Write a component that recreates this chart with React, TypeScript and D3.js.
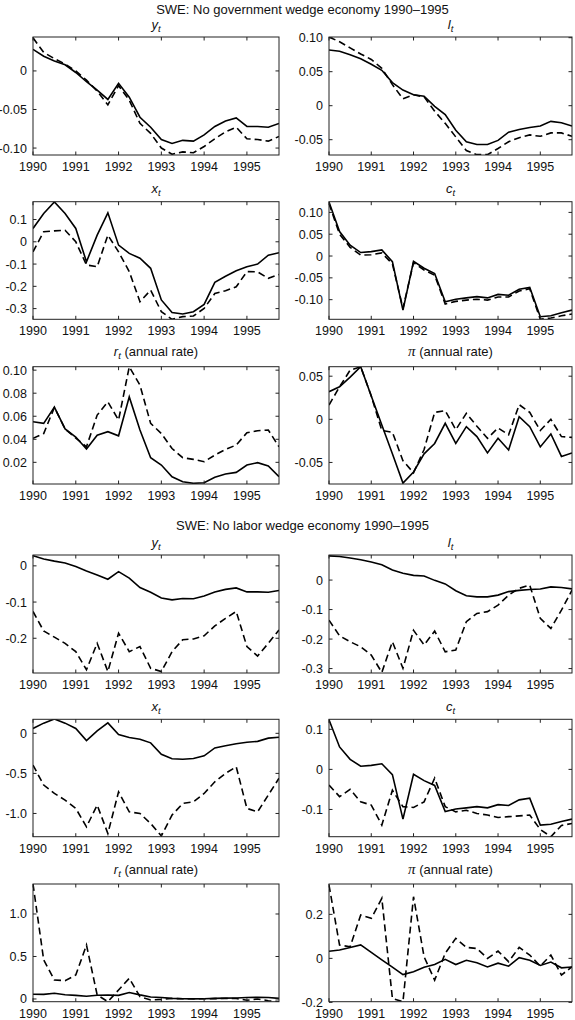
import React from 'react'
import * as d3 from 'd3'

// quarterly observations 1990Q1 - 1995Q4
const quarters = [
  1990, 1990.25, 1990.5, 1990.75, 1991, 1991.25, 1991.5, 1991.75,
  1992, 1992.25, 1992.5, 1992.75, 1993, 1993.25, 1993.5, 1993.75,
  1994, 1994.25, 1994.5, 1994.75, 1995, 1995.25, 1995.5, 1995.75,
]
const yearTicks = [1990, 1991, 1992, 1993, 1994, 1995]

// data (solid)
const yData = [0.028, 0.019, 0.013, 0.008, -0.002, -0.014, -0.025, -0.037, -0.016, -0.034, -0.060, -0.073, -0.089, -0.094, -0.090, -0.091, -0.083, -0.072, -0.065, -0.061, -0.072, -0.072, -0.073, -0.068]
const lData = [0.082, 0.080, 0.075, 0.069, 0.061, 0.052, 0.034, 0.023, 0.016, 0.014, -0.001, -0.013, -0.036, -0.053, -0.057, -0.057, -0.051, -0.039, -0.035, -0.032, -0.030, -0.023, -0.025, -0.030]
const xData = [0.060, 0.127, 0.179, 0.127, 0.060, -0.090, 0.030, 0.130, -0.015, -0.052, -0.074, -0.119, -0.261, -0.318, -0.324, -0.314, -0.281, -0.182, -0.155, -0.130, -0.112, -0.100, -0.060, -0.049]
const cData = [0.124, 0.056, 0.025, 0.008, 0.010, 0.014, -0.013, -0.124, -0.012, -0.028, -0.040, -0.105, -0.099, -0.096, -0.093, -0.096, -0.088, -0.090, -0.076, -0.072, -0.139, -0.137, -0.130, -0.124]
const rData = [0.0552, 0.0538, 0.068, 0.049, 0.042, 0.0315, 0.0436, 0.0466, 0.043, 0.0768, 0.048, 0.024, 0.0177, 0.0075, 0.0032, 0.0018, 0.0023, 0.007, 0.0099, 0.0113, 0.0177, 0.0197, 0.0168, 0.0075]
const piData = [0.032, 0.0377, 0.049, 0.061, 0.027, -0.0065, -0.040, -0.074, -0.061, -0.040, -0.028, -0.0046, -0.028, -0.0085, -0.020, -0.039, -0.022, -0.0355, 0.003, -0.0085, -0.032, -0.017, -0.043, -0.039]

// no government wedge economy (dashed)
const yNoGov = [0.043, 0.024, 0.016, 0.009, 0.000, -0.012, -0.026, -0.044, -0.019, -0.038, -0.068, -0.081, -0.100, -0.108, -0.105, -0.106, -0.098, -0.088, -0.079, -0.073, -0.088, -0.089, -0.091, -0.085]
const lNoGov = [0.101, 0.094, 0.085, 0.076, 0.068, 0.055, 0.031, 0.010, 0.016, 0.013, -0.008, -0.026, -0.046, -0.066, -0.072, -0.072, -0.063, -0.053, -0.047, -0.043, -0.045, -0.040, -0.040, -0.045]
const xNoGov = [-0.045, 0.045, 0.049, 0.052, 0.000, -0.104, -0.112, 0.030, -0.045, -0.134, -0.269, -0.217, -0.314, -0.348, -0.336, -0.333, -0.299, -0.232, -0.220, -0.202, -0.134, -0.135, -0.164, -0.147]
const cNoGov = [0.120, 0.050, 0.020, 0.002, 0.003, 0.007, -0.018, -0.120, -0.015, -0.032, -0.044, -0.110, -0.104, -0.101, -0.099, -0.101, -0.094, -0.094, -0.080, -0.075, -0.145, -0.142, -0.137, -0.133]
const rNoGov = [0.0408, 0.045, 0.0676, 0.049, 0.041, 0.0335, 0.061, 0.0725, 0.0567, 0.1029, 0.087, 0.0538, 0.045, 0.032, 0.024, 0.0226, 0.0205, 0.0263, 0.0312, 0.035, 0.0457, 0.0474, 0.048, 0.0335]
const piNoGov = [0.0166, 0.0377, 0.057, 0.061, 0.027, -0.013, -0.015, -0.048, -0.062, -0.035, 0.008, 0.010, -0.012, 0.007, -0.008, -0.022, -0.010, -0.018, 0.017, 0.008, -0.013, 0.000, -0.020, -0.021]

// no labor wedge economy (dashed)
const yNoLab = [-0.126, -0.180, -0.197, -0.214, -0.237, -0.287, -0.214, -0.292, -0.186, -0.237, -0.223, -0.283, -0.292, -0.237, -0.204, -0.202, -0.193, -0.166, -0.145, -0.126, -0.223, -0.249, -0.214, -0.177]
const lNoLab = [-0.136, -0.189, -0.209, -0.226, -0.254, -0.313, -0.209, -0.299, -0.170, -0.220, -0.173, -0.243, -0.237, -0.141, -0.113, -0.107, -0.085, -0.051, -0.028, -0.017, -0.130, -0.164, -0.102, -0.034]
const xNoLab = [-0.396, -0.646, -0.75, -0.833, -0.937, -1.167, -0.896, -1.25, -0.73, -0.98, -1.0, -1.125, -1.28, -1.02, -0.875, -0.855, -0.75, -0.605, -0.50, -0.417, -0.937, -0.98, -0.77, -0.56]
const cNoLab = [-0.039, -0.068, -0.050, -0.081, -0.089, -0.139, -0.052, -0.093, -0.095, -0.081, -0.022, -0.093, -0.106, -0.102, -0.110, -0.114, -0.120, -0.118, -0.116, -0.114, -0.150, -0.168, -0.140, -0.135]
const rNoLab = [1.353, 0.459, 0.224, 0.216, 0.282, 0.635, 0.047, -0.032, 0.106, 0.243, 0.027, -0.012, -0.005, 0.005, 0.003, 0.002, 0.002, 0.004, 0.006, 0.005, -0.015, 0.0, -0.02, -0.03]
const piNoLab = [0.333, 0.060, 0.053, 0.197, 0.182, 0.273, -0.182, -0.197, 0.28, 0.007, -0.099, 0.023, 0.091, 0.050, 0.045, 0.0, 0.033, -0.015, 0.050, 0.015, -0.035, 0.015, -0.076, -0.038]

// y ticks (value, label)
const ticksY1 = [[0, '0'], [-0.05, '-0.05'], [-0.1, '-0.10']]
const ticksL1 = [[0.1, '0.10'], [0.05, '0.05'], [0, '0'], [-0.05, '-0.05']]
const ticksX1 = [[0.1, '0.1'], [0, '0'], [-0.1, '-0.1'], [-0.2, '-0.2'], [-0.3, '-0.3']]
const ticksC1 = [[0.1, '0.10'], [0.05, '0.05'], [0, '0'], [-0.05, '-0.05'], [-0.1, '-0.10']]
const ticksR1 = [[0.1, '0.10'], [0.08, '0.08'], [0.06, '0.06'], [0.04, '0.04'], [0.02, '0.02']]
const ticksPi1 = [[0.05, '0.05'], [0, '0'], [-0.05, '-0.05']]
const ticksY2 = [[0, '0'], [-0.1, '-0.1'], [-0.2, '-0.2']]
const ticksL2 = [[0, '0'], [-0.1, '-0.1'], [-0.2, '-0.2'], [-0.3, '-0.3']]
const ticksX2 = [[0, '0'], [-0.5, '-0.5'], [-1, '-1.0']]
const ticksC2 = [[0.1, '0.1'], [0, '0'], [-0.1, '-0.1']]
const ticksR2 = [[1, '1.0'], [0.5, '0.5'], [0, '0']]
const ticksPi2 = [[0.2, '0.2'], [0, '0'], [-0.2, '-0.2']]

const FONT = 'Liberation Sans, Arial, Helvetica, sans-serif'
const cols = [[33, 279], [329, 572]]
const rows = [[37, 155], [201.7, 319.3], [366.7, 484], [555, 673], [719.3, 836.7], [884, 1001.7]]

type Title = { sym: string; serif?: boolean; sub?: boolean; rate?: boolean }

function Panel({ id, col, row, domain, ticks, title, solid, dashed }: {
  id: string; col: number; row: number; domain: [number, number]; ticks: (string | number)[][];
  title: Title; solid: number[]; dashed: number[]
}) {
  const [x0, x1] = cols[col]
  const [y0, y1] = rows[row]
  const x = d3.scaleLinear().domain([1990, 1995.75]).range([x0, x1])
  const y = d3.scaleLinear().domain(domain).range([y1, y0])
  const line = (vals: number[]) =>
    d3.line<number>().x((_, i) => x(quarters[i])).y(v => y(v))(vals) || ''
  const tl = 3.5
  const ty = y0 - (title.rate ? 10.5 : 8.5)
  return (
    <g>
      <clipPath id={id}><rect x={x0} y={y0} width={x1 - x0} height={y1 - y0} /></clipPath>
      <text x={(x0 + x1) / 2} y={ty} textAnchor="middle" fontSize={13} fontFamily={FONT} fill="#111">
        <tspan fontStyle="italic" fontFamily={title.serif ? 'Liberation Serif, serif' : FONT}
          fontSize={title.serif ? 15 : 13}>{title.sym}</tspan>
        {title.sub && <tspan fontStyle="italic" fontSize={9.5} dy={3}>t</tspan>}
        {title.rate && <tspan dy={title.sub ? -3 : 0}>{' (annual rate)'}</tspan>}
      </text>
      <g clipPath={`url(#${id})`} fill="none" stroke="#000" strokeWidth={1.6} strokeLinejoin="miter">
        <path d={line(dashed)} strokeDasharray="7,4" />
        <path d={line(solid)} />
      </g>
      <rect x={x0} y={y0} width={x1 - x0} height={y1 - y0} fill="none" stroke="#222" strokeWidth={1} />
      {yearTicks.map(t => (
        <g key={t}>
          <line x1={x(t)} x2={x(t)} y1={y1} y2={y1 - tl} stroke="#222" />
          <line x1={x(t)} x2={x(t)} y1={y0} y2={y0 + tl} stroke="#222" />
          <text x={x(t)} y={y1 + 16} textAnchor="middle" fontSize={12.5} fontFamily={FONT} fill="#111">{t}</text>
        </g>
      ))}
      {ticks.map(([v, lab]) => (
        <g key={lab as string}>
          <line x1={x0} x2={x0 + tl} y1={y(v as number)} y2={y(v as number)} stroke="#222" />
          <line x1={x1} x2={x1 - tl} y1={y(v as number)} y2={y(v as number)} stroke="#222" />
          <text x={x0 - 6} y={y(v as number) + 4.5} textAnchor="end" fontSize={12.5} fontFamily={FONT} fill="#111">{lab}</text>
        </g>
      ))}
    </g>
  )
}

export default function App() {
  return (
    <div style={{ position: 'absolute', left: 0, top: 0 }}>
      <svg width={575} height={1020} style={{ display: 'block', background: '#fff' }}>
        <text x={302.5} y={13.5} textAnchor="middle" fontSize={13} fontFamily={FONT} fill="#111">
          SWE: No government wedge economy 1990–1995
        </text>
        <text x={302.5} y={529.5} textAnchor="middle" fontSize={13} fontFamily={FONT} fill="#111">
          SWE: No labor wedge economy 1990–1995
        </text>

        <Panel id="p1" col={0} row={0} domain={[-0.109, 0.044]} ticks={ticksY1} title={{ sym: 'y', sub: true }} solid={yData} dashed={yNoGov} />
        <Panel id="p2" col={1} row={0} domain={[-0.0725, 0.101]} ticks={ticksL1} title={{ sym: 'l', sub: true }} solid={lData} dashed={lNoGov} />
        <Panel id="p3" col={0} row={1} domain={[-0.348, 0.18]} ticks={ticksX1} title={{ sym: 'x', sub: true }} solid={xData} dashed={xNoGov} />
        <Panel id="p4" col={1} row={1} domain={[-0.145, 0.1245]} ticks={ticksC1} title={{ sym: 'c', sub: true }} solid={cData} dashed={cNoGov} />
        <Panel id="p5" col={0} row={2} domain={[0.0012, 0.103]} ticks={ticksR1} title={{ sym: 'r', sub: true, rate: true }} solid={rData} dashed={rNoGov} />
        <Panel id="p6" col={1} row={2} domain={[-0.075, 0.061]} ticks={ticksPi1} title={{ sym: 'π', serif: true, rate: true }} solid={piData} dashed={piNoGov} />

        <Panel id="p7" col={0} row={3} domain={[-0.296, 0.030]} ticks={ticksY2} title={{ sym: 'y', sub: true }} solid={yData} dashed={yNoLab} />
        <Panel id="p8" col={1} row={3} domain={[-0.315, 0.085]} ticks={ticksL2} title={{ sym: 'l', sub: true }} solid={lData} dashed={lNoLab} />
        <Panel id="p9" col={0} row={4} domain={[-1.29, 0.175]} ticks={ticksX2} title={{ sym: 'x', sub: true }} solid={xData} dashed={xNoLab} />
        <Panel id="p10" col={1} row={4} domain={[-0.168, 0.125]} ticks={ticksC2} title={{ sym: 'c', sub: true }} solid={cData} dashed={cNoLab} />
        <Panel id="p11" col={0} row={5} domain={[-0.032, 1.353]} ticks={ticksR2} title={{ sym: 'r', sub: true, rate: true }} solid={rData} dashed={rNoLab} />
        <Panel id="p12" col={1} row={5} domain={[-0.197, 0.338]} ticks={ticksPi2} title={{ sym: 'π', serif: true, rate: true }} solid={piData} dashed={piNoLab} />
      </svg>
    </div>
  )
}
